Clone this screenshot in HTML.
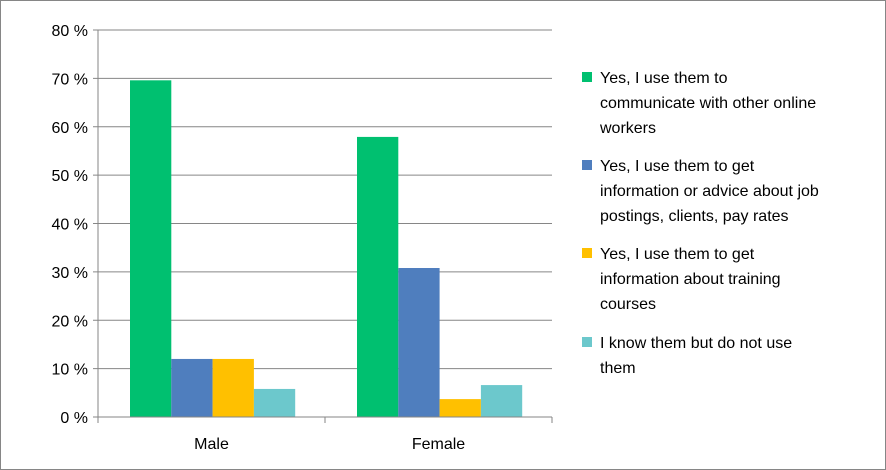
<!DOCTYPE html>
<html><head><meta charset="utf-8"><style>
body{margin:0;background:#fff;}
svg{display:block;font-family:"Liberation Sans",Arial,sans-serif;}
</style></head><body>
<svg id="chart" width="886" height="470">
<rect x="0.5" y="0.5" width="885" height="469" fill="#fff" stroke="#868686"/>
<g id="grid"></g><g id="bars"></g><g id="axes"></g><g id="legend"></g>
</svg>
<script>
const categories = ["Male", "Female"];
const seriesNames = ["Yes, I use them to communicate with other online workers","Yes, I use them to get information or advice about job postings, clients, pay rates","Yes, I use them to get information about training courses"," I know them but do not use them"];
const commValues = [69.6, 57.9];
const jobValues = [12.0, 30.8];
const trainingValues = [12.0, 3.7];
const noUseValues = [5.8, 6.6];
const yTicks = [0,10,20,30,40,50,60,70,80];
const legendLines = [["Yes, I use them to","communicate with other online","workers"],["Yes, I use them to get","information or advice about job","postings, clients, pay rates"],["Yes, I use them to get","information about training","courses"],[" I know them but do not use","them"]];
const colors = ["#00C070","#4F7EBE","#FFC000","#6CC8CC"];
const series = [commValues, jobValues, trainingValues, noUseValues];
const NS="http://www.w3.org/2000/svg";
const x0=98, catW=227, y0=417, yTop=30, yMax=80;
const y = v => y0 - (v/yMax)*(y0-yTop);
function mk(tag, attrs, parent){const e=document.createElementNS(NS,tag);for(const k in attrs)e.setAttribute(k,attrs[k]);parent.appendChild(e);return e;}
const grid=document.getElementById('grid'), bars=document.getElementById('bars'), axes=document.getElementById('axes'), legend=document.getElementById('legend');
yTicks.forEach(t=>{
  const l=mk('line',{x1:x0,x2:x0+catW*categories.length,y1:y(t),y2:y(t),stroke:'#868686','stroke-width':1},grid);
  
  
  const tk=mk('line',{x1:x0-5,x2:x0,y1:y(t),y2:y(t),stroke:'#868686'},axes);
  
  
  const tx=mk('text',{x:x0-10,y:y(t)+6,'text-anchor':'end','font-size':16,fill:'#000'},axes);
  tx.textContent=t+' %';
  
  
});
const barW=41.3, groupOff=32;
categories.forEach((c,i)=>{
  series.forEach((s,j)=>{
    const bx=x0+i*catW+groupOff+j*barW;
    const r=mk('rect',{x:bx,y:y(s[i]),width:barW,height:y0-y(s[i]),fill:colors[j]},bars);
    
    
  });
  const tx=mk('text',{x:x0+i*catW+catW/2,y:449,'text-anchor':'middle','font-size':16,fill:'#000'},axes);
  tx.textContent=c;
  
  
});
for(let i=0;i<=categories.length;i++){
  const tk=mk('line',{x1:x0+i*catW,x2:x0+i*catW,y1:y0,y2:y0+6,stroke:'#868686'},axes);
  
  
}
const ya=mk('line',{x1:x0,x2:x0,y1:yTop,y2:y0,stroke:'#868686'},axes);


const xa=mk('line',{x1:x0,x2:x0+catW*categories.length,y1:y0,y2:y0,stroke:'#868686'},axes);


const legTops=[77,165,253,342];
legendLines.forEach((lines,j)=>{
  const g=mk('g',{},legend);
  
  
  mk('rect',{x:582,y:legTops[j]-5,width:10,height:10,fill:colors[j]},g);
  lines.forEach((ln,k)=>{
    const t=mk('text',{x:600,y:legTops[j]+6+k*25,'font-size':16,fill:'#000','xml:space':'preserve'},g);
    t.textContent=ln;
  });
});
</script>
</body></html>
